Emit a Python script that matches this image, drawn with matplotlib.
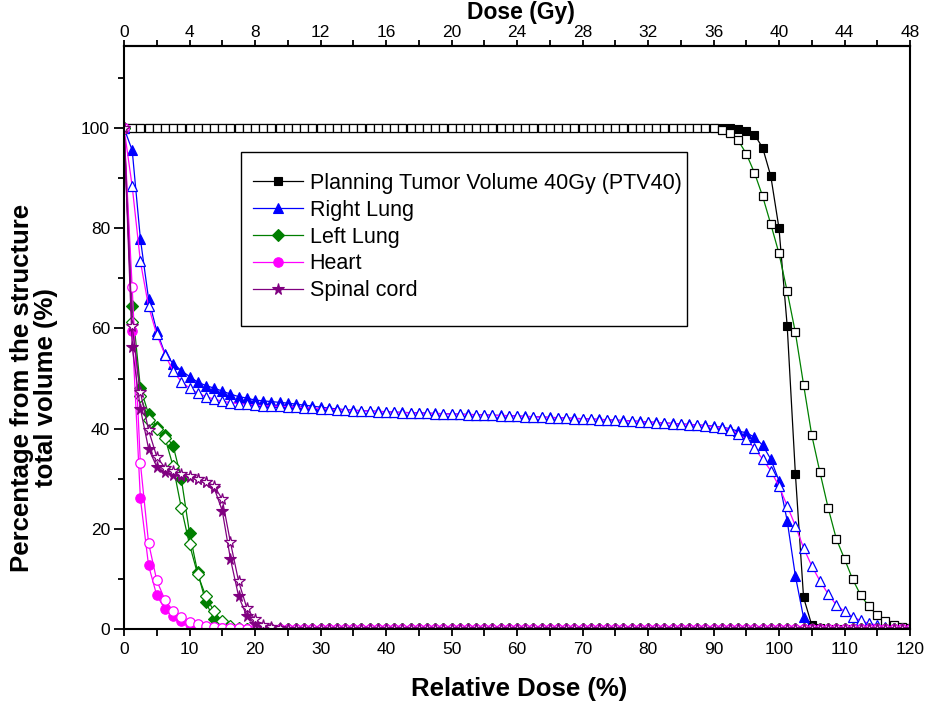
import matplotlib
matplotlib.use("Agg")
import matplotlib.pyplot as plt
from matplotlib.ticker import MultipleLocator
from matplotlib.patches import Rectangle

# ---------------- data (relative dose grid, % volume) ----------------
dose_pct = [
    0, 1.25, 2.5, 3.75, 5, 6.25, 7.5, 8.75,
    10, 11.25, 12.5, 13.75, 15, 16.25, 17.5, 18.75,
    20, 21.25, 22.5, 23.75, 25, 26.25, 27.5, 28.75,
    30, 31.25, 32.5, 33.75, 35, 36.25, 37.5, 38.75,
    40, 41.25, 42.5, 43.75, 45, 46.25, 47.5, 48.75,
    50, 51.25, 52.5, 53.75, 55, 56.25, 57.5, 58.75,
    60, 61.25, 62.5, 63.75, 65, 66.25, 67.5, 68.75,
    70, 71.25, 72.5, 73.75, 75, 76.25, 77.5, 78.75,
    80, 81.25, 82.5, 83.75, 85, 86.25, 87.5, 88.75,
    90, 91.25, 92.5, 93.75, 95, 96.25, 97.5, 98.75,
    100, 101.25, 102.5, 103.75, 105, 106.25, 107.5, 108.75,
    110, 111.25, 112.5, 113.75, 115, 116.25, 117.5, 118.75,
    120]

ptv_a = [
    100, 100, 100, 100, 100, 100, 100, 100,
    100, 100, 100, 100, 100, 100, 100, 100,
    100, 100, 100, 100, 100, 100, 100, 100,
    100, 100, 100, 100, 100, 100, 100, 100,
    100, 100, 100, 100, 100, 100, 100, 100,
    100, 100, 100, 100, 100, 100, 100, 100,
    100, 100, 100, 100, 100, 100, 100, 100,
    100, 100, 100, 100, 100, 100, 100, 100,
    100, 100, 100, 100, 100, 100, 100, 100,
    100, 100, 99.95, 99.8, 99.5, 98.7, 96.1, 90.4,
    80.0, 60.5, 31.0, 6.3, 0.8, 0.1, 0, 0,
    0, 0, 0, 0, 0, 0, 0, 0,
    0]
ptv_b = [
    100, 100, 100, 100, 100, 100, 100, 100,
    100, 100, 100, 100, 100, 100, 100, 100,
    100, 100, 100, 100, 100, 100, 100, 100,
    100, 100, 100, 100, 100, 100, 100, 100,
    100, 100, 100, 100, 100, 100, 100, 100,
    100, 100, 100, 100, 100, 100, 100, 100,
    100, 100, 100, 100, 100, 100, 100, 100,
    100, 100, 100, 100, 100, 100, 100, 100,
    100, 100, 100, 100, 100, 100, 100, 100,
    100, 99.7, 99.1, 97.6, 94.9, 91.1, 86.4, 80.8,
    75.0, 67.4, 59.2, 48.8, 38.7, 31.3, 24.2, 18.0,
    14.0, 9.9, 6.7, 4.5, 2.7, 1.5, 0.8, 0.3,
    0.1]

rlung_a = [
    100, 95.6, 77.9, 65.9, 59.5, 55.0, 53.0, 51.6,
    50.4, 49.3, 48.6, 48.1, 47.5, 46.9, 46.4, 46.1,
    45.7, 45.55, 45.4, 45.25, 45.1, 44.9, 44.7, 44.5,
    44.3, 44.1, 43.95, 43.8, 43.7, 43.6, 43.55, 43.45,
    43.4, 43.3, 43.25, 43.2, 43.15, 43.1, 43.05, 43.0,
    42.95, 42.9, 42.85, 42.8, 42.75, 42.7, 42.65, 42.6,
    42.55, 42.45, 42.4, 42.35, 42.25, 42.2, 42.15, 42.05,
    42.0, 41.95, 41.85, 41.8, 41.7, 41.65, 41.55, 41.45,
    41.35, 41.25, 41.15, 41.05, 40.95, 40.85, 40.75, 40.65,
    40.5, 40.3, 40.0, 39.5, 39.2, 38.3, 36.7, 33.9,
    29.6, 21.6, 10.6, 2.3, 0.2, 0, 0, 0,
    0, 0, 0, 0, 0, 0, 0, 0,
    0]
rlung_b = [
    100, 88.4, 73.4, 64.4, 58.8, 54.8, 51.5, 49.4,
    48.1, 47.1, 46.4, 45.9, 45.5, 45.2, 45.0, 44.85,
    44.7, 44.6, 44.5, 44.45, 44.4, 44.3, 44.2, 44.1,
    44.0, 43.9, 43.8, 43.7, 43.6, 43.55, 43.5, 43.4,
    43.35, 43.3, 43.2, 43.15, 43.1, 43.05, 43.0, 42.95,
    42.9, 42.85, 42.8, 42.75, 42.7, 42.65, 42.6, 42.55,
    42.5, 42.4, 42.35, 42.3, 42.2, 42.15, 42.1, 42.0,
    41.95, 41.9, 41.8, 41.75, 41.65, 41.6, 41.5, 41.4,
    41.3, 41.2, 41.1, 41.0, 40.9, 40.8, 40.7, 40.55,
    40.4, 40.2, 39.8, 39.0, 37.9, 36.1, 33.9, 31.6,
    28.5, 24.6, 20.6, 16.2, 12.6, 9.6, 7.0, 4.8,
    3.5, 2.4, 1.7, 1.1, 0.8, 0.4, 0.2, 0.1,
    0]

llung_a = [
    100, 64.5, 48.2, 42.9, 40.4, 38.7, 36.6, 30.0,
    19.2, 11.3, 5.3, 2.0, 0.6, 0.2, 0.05, 0,
    0, 0, 0, 0, 0, 0, 0, 0,
    0, 0, 0, 0, 0, 0, 0, 0,
    0, 0, 0, 0, 0, 0, 0, 0,
    0, 0, 0, 0, 0, 0, 0, 0,
    0, 0, 0, 0, 0, 0, 0, 0,
    0, 0, 0, 0, 0, 0, 0, 0,
    0, 0, 0, 0, 0, 0, 0, 0,
    0, 0, 0, 0, 0, 0, 0, 0,
    0, 0, 0, 0, 0, 0, 0, 0,
    0, 0, 0, 0, 0, 0, 0, 0,
    0]
llung_b = [
    100, 61.3, 46.5, 41.8, 40.0, 38.2, 32.5, 24.2,
    16.9, 10.9, 6.5, 3.5, 1.5, 0.5, 0.15, 0.05,
    0, 0, 0, 0, 0, 0, 0, 0,
    0, 0, 0, 0, 0, 0, 0, 0,
    0, 0, 0, 0, 0, 0, 0, 0,
    0, 0, 0, 0, 0, 0, 0, 0,
    0, 0, 0, 0, 0, 0, 0, 0,
    0, 0, 0, 0, 0, 0, 0, 0,
    0, 0, 0, 0, 0, 0, 0, 0,
    0, 0, 0, 0, 0, 0, 0, 0,
    0, 0, 0, 0, 0, 0, 0, 0,
    0, 0, 0, 0, 0, 0, 0, 0,
    0]

heart_a = [
    100, 59.5, 26.1, 12.7, 6.7, 4.0, 2.5, 1.6,
    0.9, 0.55, 0.35, 0.2, 0.1, 0.05, 0, 0,
    0, 0, 0, 0, 0, 0, 0, 0,
    0, 0, 0, 0, 0, 0, 0, 0,
    0, 0, 0, 0, 0, 0, 0, 0,
    0, 0, 0, 0, 0, 0, 0, 0,
    0, 0, 0, 0, 0, 0, 0, 0,
    0, 0, 0, 0, 0, 0, 0, 0,
    0, 0, 0, 0, 0, 0, 0, 0,
    0, 0, 0, 0, 0, 0, 0, 0,
    0, 0, 0, 0, 0, 0, 0, 0,
    0, 0, 0, 0, 0, 0, 0, 0,
    0]
heart_b = [
    100, 68.2, 33.1, 17.2, 9.7, 5.8, 3.6, 2.3,
    1.4, 0.9, 0.55, 0.35, 0.25, 0.15, 0.1, 0.05,
    0, 0, 0, 0, 0, 0, 0, 0,
    0, 0, 0, 0, 0, 0, 0, 0,
    0, 0, 0, 0, 0, 0, 0, 0,
    0, 0, 0, 0, 0, 0, 0, 0,
    0, 0, 0, 0, 0, 0, 0, 0,
    0, 0, 0, 0, 0, 0, 0, 0,
    0, 0, 0, 0, 0, 0, 0, 0,
    0, 0, 0, 0, 0, 0, 0, 0,
    0, 0, 0, 0, 0, 0, 0, 0,
    0, 0, 0, 0, 0, 0, 0, 0,
    0]

cord_a = [
    100, 56.4, 44.0, 36.0, 32.4, 31.3, 30.8, 30.5,
    30.3, 29.9, 29.4, 28.2, 23.6, 14.0, 6.5, 2.6,
    0.95, 0.35, 0.1, 0, 0, 0, 0, 0,
    0, 0, 0, 0, 0, 0, 0, 0,
    0, 0, 0, 0, 0, 0, 0, 0,
    0, 0, 0, 0, 0, 0, 0, 0,
    0, 0, 0, 0, 0, 0, 0, 0,
    0, 0, 0, 0, 0, 0, 0, 0,
    0, 0, 0, 0, 0, 0, 0, 0,
    0, 0, 0, 0, 0, 0, 0, 0,
    0, 0, 0, 0, 0, 0, 0, 0,
    0, 0, 0, 0, 0, 0, 0, 0,
    0]
cord_b = [
    100, 60.5, 47.3, 39.7, 34.4, 32.2, 31.5, 30.9,
    30.5, 30.0, 29.4, 28.6, 25.9, 17.3, 9.5, 4.2,
    1.9, 0.8, 0.3, 0.1, 0, 0, 0, 0,
    0, 0, 0, 0, 0, 0, 0, 0,
    0, 0, 0, 0, 0, 0, 0, 0,
    0, 0, 0, 0, 0, 0, 0, 0,
    0, 0, 0, 0, 0, 0, 0, 0,
    0, 0, 0, 0, 0, 0, 0, 0,
    0, 0, 0, 0, 0, 0, 0, 0,
    0, 0, 0, 0, 0, 0, 0, 0,
    0, 0, 0, 0, 0, 0, 0, 0,
    0, 0, 0, 0, 0, 0, 0, 0,
    0]

labels = ["Planning Tumor Volume 40Gy (PTV40)", "Right Lung", "Left Lung",
          "Heart", "Spinal cord"]
x_ticks = [0, 10, 20, 30, 40, 50, 60, 70, 80, 90, 100, 110, 120]
y_ticks = [0, 20, 40, 60, 80, 100]
gy_ticks = [0, 4, 8, 12, 16, 20, 24, 28, 32, 36, 40, 44, 48]
prescription_gy = 40.0

# ---------------- styling ----------------
REG = ['Liberation Sans', 'DejaVu Sans']
plt.rcParams['font.family'] = REG

series = [
    (ptv_a, ptv_b, 'black', '#008000', 's', 5.8),
    (rlung_a, rlung_b, '#0000FF', '#FF00FF', '^', 7.0),
    (llung_a, llung_b, '#007F00', '#007F00', 'D', 6.0),
    (heart_a, heart_b, '#FF00FF', '#FF00FF', 'o', 6.8),
    (cord_a, cord_b, '#800080', '#800080', '*', 8.5),
]

W, H = 925, 704
fig = plt.figure(figsize=(W / 100, H / 100), dpi=100)
L, R, T, B = 124, 910, 46, 629
ax = fig.add_axes([L / W, 1 - B / H, (R - L) / W, (B - T) / H])

handles = []
for (ya, yb, col, ocol, mk, ms), lab in zip(series, labels):
    h, = ax.plot(dose_pct, ya, color=col, lw=0.9, marker=mk, ms=ms,
                 mfc=col, mec=col, mew=0.8, label=lab)
    ax.plot(dose_pct, yb, color=ocol, lw=0.9, marker=mk, ms=ms,
            mfc='white', mec=col, mew=0.9)
    handles.append(h)

ax.set_xlim(0, 120)
ax.set_ylim(0, 116.4)
ax.set_xticks(x_ticks)
ax.xaxis.set_minor_locator(MultipleLocator(5))
ax.set_yticks(y_ticks)
ax.yaxis.set_minor_locator(MultipleLocator(10))
for sp in ax.spines.values():
    sp.set_linewidth(1.5)
ax.tick_params(axis='x', which='both', direction='out', length=5, width=1.3,
               labelsize=12.5, pad=4, top=False)
ax.tick_params(axis='y', which='major', direction='out', length=7, width=1.3,
               labelsize=12.5, pad=3, right=False)
ax.tick_params(axis='y', which='minor', direction='out', length=4.5, width=1.3,
               right=False)

scale = prescription_gy / 100.0
ax2 = ax.secondary_xaxis('top', functions=(lambda x: x * scale, lambda g: g / scale))
ax2.set_xticks(gy_ticks)
ax2.xaxis.set_minor_locator(MultipleLocator(2))
ax2.tick_params(axis='x', which='both', direction='out', length=4, width=1.3,
                labelsize=12.5, pad=0)
ax2.spines['top'].set_linewidth(1.5)

# axis titles
fig.text(519 / W, 1 - 689 / H, "Relative Dose (%)", ha='center', va='center',
         fontsize=18.5, fontweight='bold')
fig.text(521 / W, 1 - 12 / H, "Dose (Gy)", ha='center', va='center',
         fontsize=16.5, fontweight='bold')
fig.text(34 / W, 1 - 388 / H, "Percentage from the structure\ntotal volume (%)",
         ha='center', va='center', rotation=90, multialignment='center',
         fontsize=18.5, fontweight='bold', linespacing=1.05)

# legend with separate frame
leg = ax.legend(handles=handles, loc='upper left',
                bbox_to_anchor=((253 - L) / (R - L), (B - 173) / (B - T)),
                frameon=False, borderpad=0, borderaxespad=0,
                handlelength=2.3, handletextpad=0.33, labelspacing=0.27,
                prop={'family': REG, 'size': 15.5})
fx0, fx1 = (241 - L) / (R - L), (687 - L) / (R - L)
fy0, fy1 = (B - 326) / (B - T), (B - 152) / (B - T)
ax.add_patch(Rectangle((fx0, fy0), fx1 - fx0, fy1 - fy0, transform=ax.transAxes,
                       fill=False, edgecolor='black', lw=1.0, zorder=5))

fig.savefig("out.png", dpi=100)
